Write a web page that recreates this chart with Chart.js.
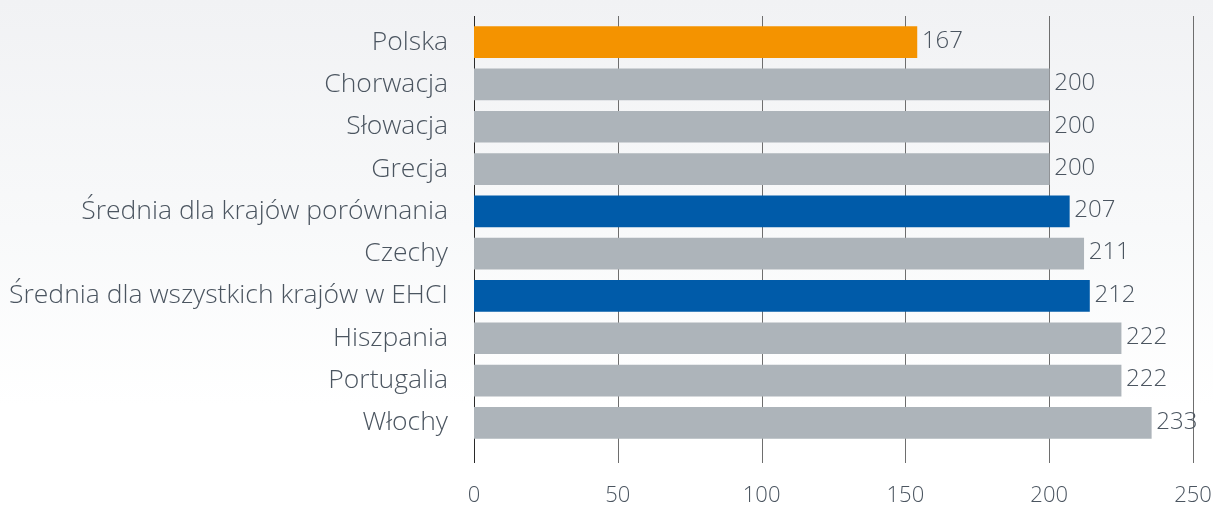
<!DOCTYPE html>
<html>
<head>
<meta charset="utf-8">
<script src="https://cdn.jsdelivr.net/npm/chart.js@4"></script>
<style>
  html, body { margin: 0; padding: 0; }
  body {
    width: 1213px; height: 507px;
    background: linear-gradient(to bottom, #f1f2f4 0%, #f8f9fa 45%, #ffffff 80%);
  }
  #wrap { position: relative; width: 1213px; height: 507px; }
</style>
</head>
<body>
<div id="wrap"><canvas id="chart"></canvas></div>
<script>
// Categories, top to bottom
const countries = [
    'Polska', 'Chorwacja', 'Słowacja', 'Grecja',
    'Średnia dla krajów porównania', 'Czechy',
    'Średnia dla wszystkich krajów w EHCI',
    'Hiszpania', 'Portugalia', 'Włochy'
];
// Bar lengths as drawn in the picture
const barValues = [154, 200, 200, 200, 207, 212, 214, 225, 225, 235.5];
// Numbers printed next to bars
const valueLabels = ['167', '200', '200', '200', '207', '211', '212', '222', '222', '233'];
const barColors = ['#f49300', '#adb4ba', '#adb4ba', '#adb4ba', '#005ba9', '#adb4ba', '#005ba9', '#adb4ba', '#adb4ba', '#adb4ba'];
const xTicks = [0, 50, 100, 150, 200, 250];

const FONT = "'Open Sans', 'DejaVu Sans', sans-serif";
const TEXT = '#4b5560';

// Vertical grid lines, a little longer than the plot area
const gridPlugin = {
    id: 'gridLines',
    beforeDatasetsDraw(chart) {
        const { ctx, chartArea, scales } = chart;
        ctx.save();
        ctx.lineWidth = 1;
        xTicks.forEach(v => {
            const x = Math.round(scales.x.getPixelForValue(v)) + 0.5;
            ctx.strokeStyle = v === 0 ? '#2a2a2a' : '#6e6e6e';
            ctx.beginPath();
            ctx.moveTo(x, chartArea.top - 5);
            ctx.lineTo(x, chartArea.bottom + 19);
            ctx.stroke();
        });
        ctx.restore();
    }
};

// Value labels at bar ends
const labelPlugin = {
    id: 'valueLabels',
    afterDatasetsDraw(chart) {
        const { ctx } = chart;
        const meta = chart.getDatasetMeta(0);
        ctx.save();
        ctx.font = '300 24px ' + FONT;
        ctx.fillStyle = '#4b5560';
        ctx.textAlign = 'left';
        ctx.textBaseline = 'middle';
        meta.data.forEach((bar, i) => {
            ctx.fillText(valueLabels[i], bar.x + 5, bar.y - 1);
        });
        ctx.restore();
    }
};

new Chart(document.getElementById('chart'), {
    type: 'bar',
    data: {
        labels: countries,
        datasets: [{
            data: barValues,
            backgroundColor: barColors,
            borderWidth: 0,
            barThickness: 31
        }]
    },
    options: {
        indexAxis: 'y',
        responsive: true,
        maintainAspectRatio: false,
        animation: false,
        layout: { padding: { top: 21, right: 20, bottom: 0, left: 0 } },
        plugins: {
            legend: { display: false },
            tooltip: { enabled: false }
        },
        scales: {
            x: {
                min: 0,
                max: 250,
                grid: { display: false, drawTicks: false },
                border: { display: false },
                afterFit: scale => {
                    scale.height = 63;
                    scale.paddingLeft = 0;
                    scale.paddingRight = 0;
                },
                ticks: {
                    stepSize: 50,
                    padding: 39,
                    maxRotation: 0,
                    minRotation: 0,
                    color: TEXT,
                    font: { family: FONT, size: 22, weight: 300 }
                }
            },
            y: {
                grid: { display: false, drawTicks: false },
                border: { display: false },
                afterFit: scale => {
                    scale.width = 474;
                    scale.paddingTop = 0;
                    scale.paddingBottom = 0;
                },
                ticks: {
                    padding: 26,
                    color: TEXT,
                    font: { family: FONT, size: 26.5, weight: 300 }
                }
            }
        }
    },
    plugins: [gridPlugin, labelPlugin]
});
</script>
</body>
</html>
